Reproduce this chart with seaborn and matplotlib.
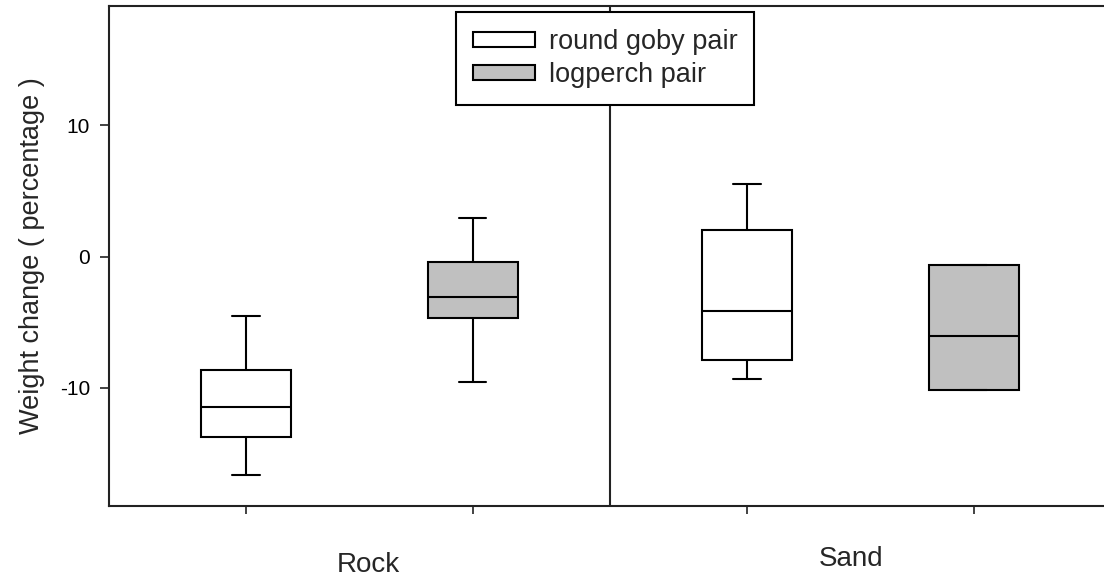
import numpy as np
import pandas as pd
import matplotlib
matplotlib.use("Agg")
import matplotlib.pyplot as plt
import matplotlib.transforms as mtransforms
from matplotlib.patches import Patch
import seaborn as sns

# ---- data ----
habitats = ["Rock", "Sand"]
species = ["round goby pair", "logperch pair"]
# five-number summaries: [lower whisker, Q1, median, Q3, upper whisker]
rock_goby = [-16.66, -13.74, -11.45, -8.65, -4.54]
rock_logperch = [-9.55, -4.65, -3.09, -0.44, 2.91]
sand_goby = [-9.36, -7.89, -4.13, 2.02, 5.53]
sand_logperch = [-10.2, -10.2, -6.04, -0.65, -0.65]
yticks = [-10, 0, 10]
ylabel = "Weight change ( percentage )"
colors = ["#FFFFFF", "#C0C0C0"]

rows = []
for hab, sp, vals in [("Rock", species[0], rock_goby), ("Rock", species[1], rock_logperch),
                      ("Sand", species[0], sand_goby), ("Sand", species[1], sand_logperch)]:
    for v in vals:
        rows.append({"habitat": hab, "species": sp, "value": v})
df = pd.DataFrame(rows)

sns.set_theme(style="ticks")
plt.rcParams["font.family"] = ["Liberation Sans", "DejaVu Sans"]

fig = plt.figure(figsize=(11.04, 5.79), dpi=100)
ax = fig.add_axes([0.0987, 0.1266, 0.9076, 0.863])

width = 0.906
sns.boxplot(data=df, x="habitat", y="value", hue="species", order=habitats,
            hue_order=species, palette=colors, saturation=1, width=width, gap=0.603,
            whis=(0, 100), linecolor="black", linewidth=1.5, legend=False, ax=ax,
            capwidths=0.054, medianprops={"color": "black", "linewidth": 1.5})

ax.axvline(0.5, color="#222222", lw=1.5, zorder=1)

ax.set_xlim(-0.5, 1.5)
ax.set_ylim(-19.0, 19.1)
ax.set_yticks(yticks)
ax.set_yticklabels([str(t) for t in yticks], fontsize=15)
box_pos = [i + s * width / 4 for i in range(len(habitats)) for s in (-1, 1)]
ax.set_xticks(box_pos)
ax.set_xticklabels([])
ax.set_xlabel("")
ax.set_ylabel(ylabel, fontsize=19.5, labelpad=11)
ax.tick_params(axis="y", length=6.5, width=1.2, pad=7, colors="#222222", labelcolor="black")
ax.tick_params(axis="x", length=6, width=1.2, colors="#222222")
for side in ["left", "bottom", "top", "right"]:
    ax.spines[side].set_visible(True)
    ax.spines[side].set_color("#222222")
    ax.spines[side].set_linewidth(1.5)

trans = mtransforms.blended_transform_factory(ax.transData, ax.transAxes)
ax.text(0 + 0.017, -0.118, habitats[0], transform=trans, ha="center", va="center", fontsize=20)
ax.text(1 - 0.019, -0.107, habitats[1], transform=trans, ha="center", va="center", fontsize=20)

handles = [Patch(facecolor=c, edgecolor="black", linewidth=1.5) for c in colors]
leg = ax.legend(handles, species, loc="upper left", bbox_to_anchor=(0.3463, 0.988),
                borderaxespad=0, fontsize=19.5, handlelength=2.3, handleheight=0.48,
                handletextpad=0.5, labelspacing=0.27, borderpad=0.62,
                frameon=True, fancybox=False, framealpha=1, edgecolor="black")
leg.get_frame().set_linewidth(1.5)
leg.set_zorder(5)

fig.savefig("out.png", dpi=100)
